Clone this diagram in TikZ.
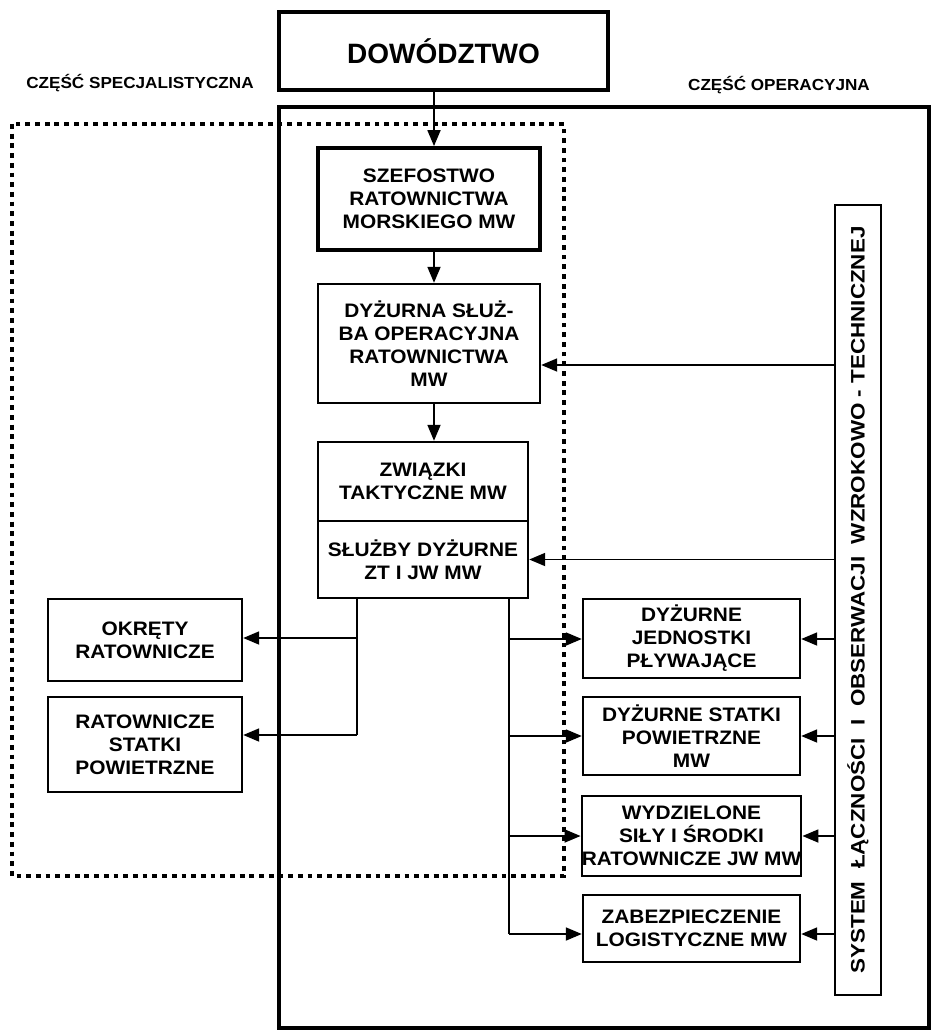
\documentclass[tikz,border=0pt]{standalone}
\usepackage{fontspec}
\setmainfont{Liberation Sans}
\newfontfamily\widefont{Liberation Sans}[FakeStretch=1.07]
\newfontfamily\sysfont{Liberation Sans}[FakeStretch=1.15]
\usetikzlibrary{arrows.meta}

\tikzset{
  box/.style={draw, line width=2.4pt, align=center, inner sep=0pt,
    font=\widefont\bfseries\fontsize{19.5}{23}\selectfont},
  heavybox/.style={box, line width=3.8pt},
  hdr/.style={font=\widefont\bfseries\fontsize{16}{19}\selectfont, inner sep=0pt},
  link/.style={line width=1.8pt},
  arr/.style={link, -{Triangle[length=16pt,width=13pt]}},
}

\begin{document}
\begin{tikzpicture}[x=1pt,y=-1pt]
\useasboundingbox (0,0) rectangle (933,1030);

% operational part frame and specialist part (dotted) frame
\draw[line width=3.2pt] (279,107) rectangle (929,1028);
\draw[line width=4.8pt, dash pattern=on 4.8pt off 4.9pt] (12,124) rectangle (564,876);

% section headings
\node[hdr] (hspec) at (140,83) {CZĘŚĆ SPECJALISTYCZNA};
\node[hdr] (hoper) at (779,85) {CZĘŚĆ OPERACYJNA};

% command chain
\node[draw, line width=4.2pt, minimum width=329pt, minimum height=78pt,
      font=\bfseries\fontsize{28}{32}\selectfont] (dow) at (443.5,51) {DOWÓDZTWO};
\node[heavybox, minimum width=222pt, minimum height=102pt] (szef) at (429,199)
  {SZEFOSTWO\\RATOWNICTWA\\MORSKIEGO MW};
\node[box, minimum width=222pt, minimum height=119pt] (dsor) at (429,343.5)
  {DYŻURNA SŁUŻ-\\BA OPERACYJNA\\RATOWNICTWA\\MW};
\node[box, minimum width=210pt, minimum height=79pt] (zwa) at (423,481.5)
  {ZWIĄZKI\\TAKTYCZNE MW};
\node[box, minimum width=210pt, minimum height=77pt] (zwb) at (423,559.5)
  {SŁUŻBY DYŻURNE\\ZT I JW MW};

% specialist units
\node[box, minimum width=194pt, minimum height=82pt] (okr) at (145,640)
  {OKRĘTY\\RATOWNICZE};
\node[box, minimum width=194pt, minimum height=95pt] (rsp) at (145,744.5)
  {RATOWNICZE\\STATKI\\POWIETRZNE};

% operational units
\node[box, minimum width=217pt, minimum height=79pt] (djp) at (691.5,638.5)
  {DYŻURNE\\JEDNOSTKI\\PŁYWAJĄCE};
\node[box, minimum width=217pt, minimum height=78pt] (dsp) at (691.5,736)
  {DYŻURNE STATKI\\POWIETRZNE\\MW};
\node[box, minimum width=217pt, minimum height=80pt] (wsr) at (691.5,836)
  {WYDZIELONE\\SIŁY I ŚRODKI\\RATOWNICZE JW MW};
\node[box, minimum width=217pt, minimum height=67pt] (zlm) at (691.5,928.5)
  {ZABEZPIECZENIE\\LOGISTYCZNE MW};

% communication and observation system
\node[box, minimum width=46pt, minimum height=790pt] (sys) at (858,600) {};
\node[rotate=90, inner sep=0pt, font=\sysfont\bfseries\fontsize{19.5}{22}\selectfont]
  (systxt) at (sys.center) {SYSTEM\ \ ŁĄCZNOŚCI\ \ I\ \ OBSERWACJI\ \ WZROKOWO - TECHNICZNEJ};

% downward chain
\draw[arr] ([xshift=5pt]szef.north |- dow.south) -- ([xshift=5pt]szef.north);
\draw[arr] ([xshift=5pt]szef.south) -- ([xshift=5pt]dsor.north);
\draw[arr] ([xshift=5pt]dsor.south) -- ([xshift=5pt]dsor.south |- zwa.north);

% branches to specialist units
\coordinate (bl) at ([xshift=-66pt]zwb.south);
\coordinate (okin) at ([yshift=2pt]okr.east);
\coordinate (rsin) at ([yshift=9.5pt]rsp.east);
\draw[link] (bl) -- (bl |- rsin);
\draw[arr] (bl |- okin) -- (okin);
\draw[arr] (bl |- rsin) -- (rsin);

% branches to operational units
\coordinate (br) at ([xshift=86pt]zwb.south);
\coordinate (djin) at ([yshift=-0.5pt]djp.west);
\coordinate (zlin) at ([yshift=-5.5pt]zlm.west);
\draw[link] (br) -- (br |- zlin);
\draw[arr] (br |- djin) -- (djin);
\draw[arr] (br |- dsp.west) -- (dsp.west);
\draw[arr] (br |- wsr.west) -- (wsr.west);
\draw[arr] (br |- zlin) -- (zlin);

% feeds from the system
\coordinate (dsin) at ([yshift=-21.5pt]dsor.east);
\draw[arr] (sys.west |- dsin) -- (dsin);
\draw[arr] (sys.west |- zwb.east) -- (zwb.east);
\coordinate (djr) at ([yshift=-0.5pt]djp.east);
\coordinate (zlr) at ([yshift=-5.5pt]zlm.east);
\draw[arr] (sys.west |- djr) -- (djr);
\draw[arr] (sys.west |- dsp.east) -- (dsp.east);
\draw[arr] (sys.west |- wsr.east) -- (wsr.east);
\draw[arr] (sys.west |- zlr) -- (zlr);
\end{tikzpicture}
\end{document}
